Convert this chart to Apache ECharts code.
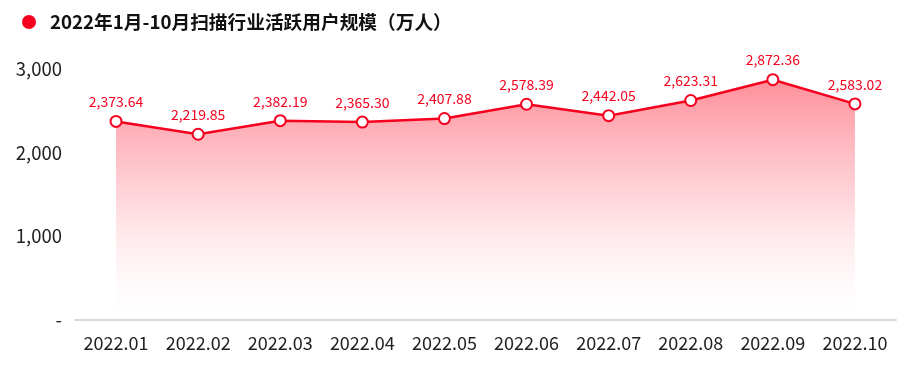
<!DOCTYPE html>
<html><head><meta charset="utf-8">
<script src="https://cdn.jsdelivr.net/npm/echarts@6/dist/echarts.min.js"></script>
<style>html,body{margin:0;padding:0;background:#fff;}#c{width:919px;height:375px;}</style>
</head><body><div id="c"></div>
<script>
var titleText = '2022年1月-10月扫描行业活跃用户规模（万人）';
var categories = ['2022.01','2022.02','2022.03','2022.04','2022.05','2022.06','2022.07','2022.08','2022.09','2022.10'];
var values = [2373.64, 2219.85, 2382.19, 2365.30, 2407.88, 2578.39, 2442.05, 2623.31, 2872.36, 2583.02];
var yTicks = [0, 1000, 2000, 3000];

var chart = echarts.init(document.getElementById('c'));
var font = '"Noto Sans CJK SC", "Noto Sans", sans-serif';
function fmt(v){return v.toLocaleString('en-US',{minimumFractionDigits:2,maximumFractionDigits:2});}
chart.setOption({
  animation:false,
  graphic:[{type:'circle',left:22,top:15,shape:{r:7},style:{fill:'#f5001e'}}],
  title:{text:titleText,left:45,top:8,textStyle:{fontFamily:font,fontSize:18.7,fontWeight:'bold',color:'#111'}},
  grid:{left:75,right:23,top:69,bottom:55},
  xAxis:{type:'category',data:categories,boundaryGap:true,
    axisLine:{lineStyle:{color:'#d9d9d9',width:2}},axisTick:{show:false},
    axisLabel:{interval:0,fontFamily:font,fontSize:18,color:'#222',margin:14}},
  yAxis:{type:'value',min:yTicks[0],max:yTicks[yTicks.length-1],interval:1000,
    axisLine:{show:false},axisTick:{show:false},splitLine:{show:false},
    axisLabel:{fontFamily:font,fontSize:18.5,color:'#222',margin:13,
      formatter:function(v){return v===0?'-':v.toLocaleString('en-US');}}},
  series:[{type:'line',data:values,symbol:'circle',symbolSize:11,
    itemStyle:{color:'#fff',borderColor:'#f5001e',borderWidth:2},
    lineStyle:{color:'#f5001e',width:2.5},
    label:{show:true,position:'top',distance:6,fontFamily:font,fontSize:14,color:'#f5001e',
      formatter:function(p){return fmt(p.value);}},
    areaStyle:{color:new echarts.graphic.LinearGradient(0,0,0,1,[
      {offset:0,color:'rgba(255,40,60,0.75)'},
      {offset:0.5,color:'rgba(255,90,110,0.35)'},
      {offset:0.93,color:'rgba(255,200,205,0.06)'},
      {offset:1,color:'rgba(255,255,255,0)'}])}
  }]
});
</script></body></html>
